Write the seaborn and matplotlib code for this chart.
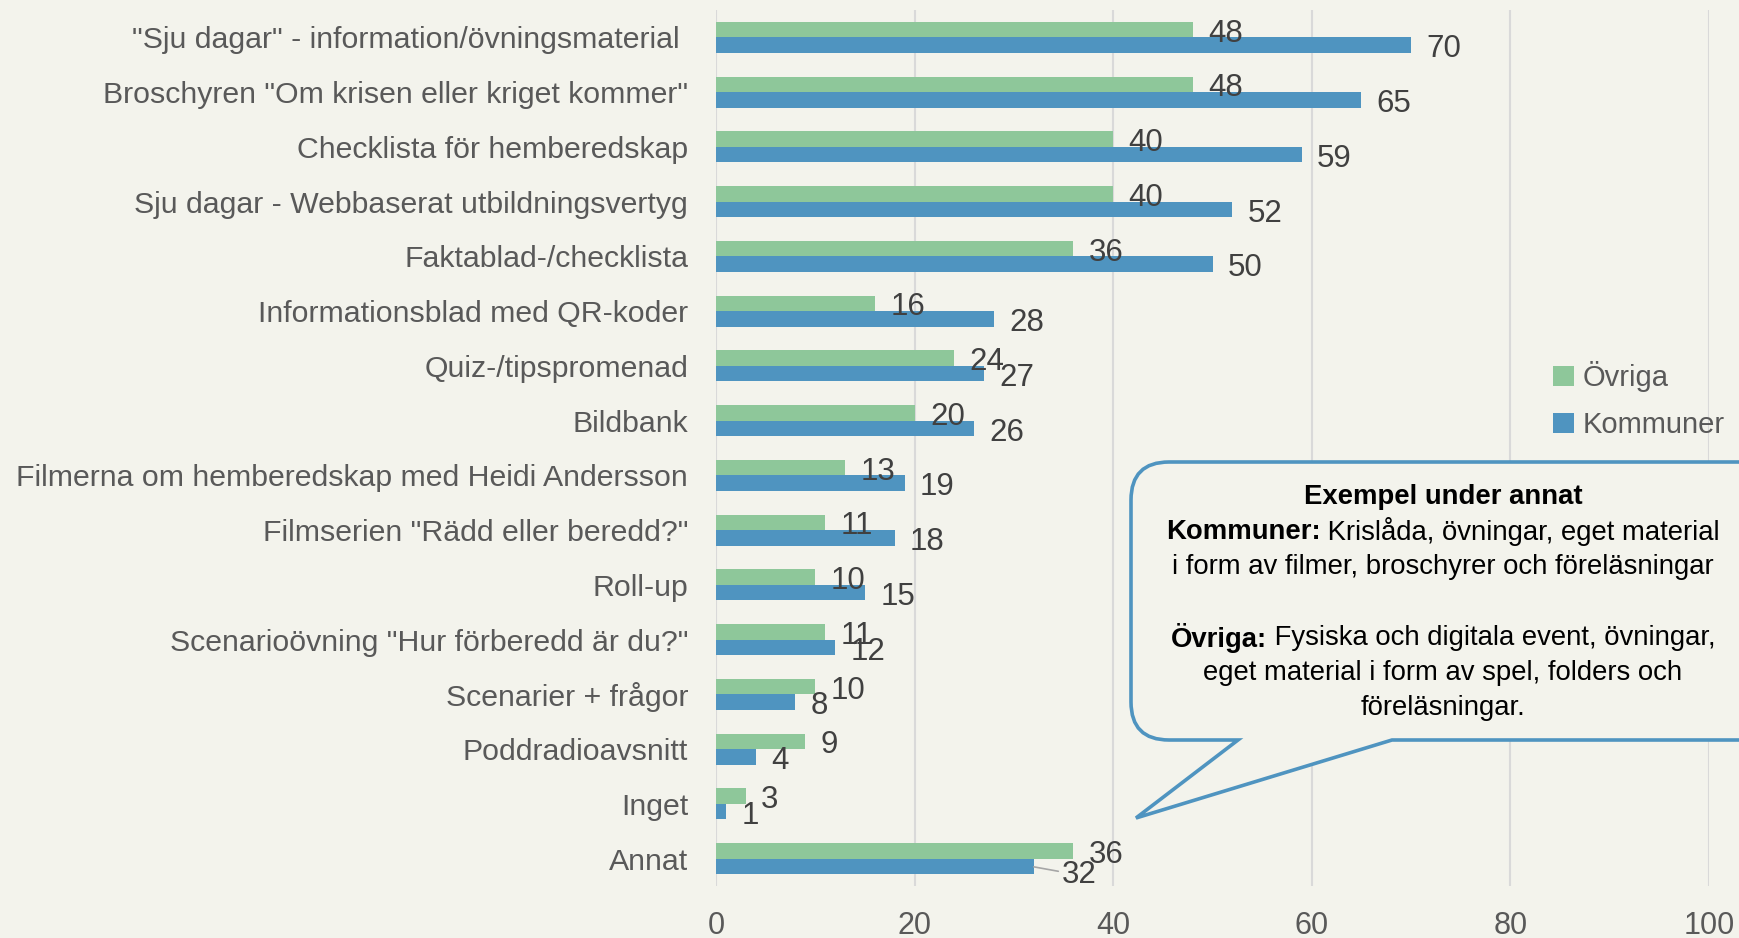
import numpy as np
import pandas as pd
import matplotlib
matplotlib.use("Agg")
import matplotlib.pyplot as plt
import seaborn as sns
from matplotlib.path import Path
from matplotlib.patches import PathPatch

# Data
categories = [
    '"Sju dagar" - information/övningsmaterial ',
    'Broschyren "Om krisen eller kriget kommer"',
    'Checklista för hemberedskap',
    'Sju dagar - Webbaserat utbildningsvertyg',
    'Faktablad-/checklista',
    'Informationsblad med QR-koder',
    'Quiz-/tipspromenad',
    'Bildbank',
    'Filmerna om hemberedskap med Heidi Andersson',
    'Filmserien "Rädd eller beredd?"',
    'Roll-up',
    'Scenarioövning "Hur förberedd är du?"',
    'Scenarier + frågor',
    'Poddradioavsnitt',
    'Inget',
    'Annat',
]
ovriga = [48, 48, 40, 40, 36, 16, 24, 20, 13, 11, 10, 11, 10, 9, 3, 36]
kommuner = [70, 65, 59, 52, 50, 28, 27, 26, 19, 18, 15, 12, 8, 4, 1, 32]
series = ["Övriga", "Kommuner"]
x_ticks = [0, 20, 40, 60, 80, 100]

callout_lines = [
    [("Exempel under annat", "bold")],
    [("Kommuner:", "bold"), (" Krislåda, övningar, eget material", "normal")],
    [("i form av filmer, broschyrer och föreläsningar", "normal")],
    [("Övriga:", "bold"), (" Fysiska och digitala event, övningar,", "normal")],
    [("eget material i form av spel, folders och", "normal")],
    [("föreläsningar.", "normal")],
]

BG = "#F3F3EC"
GREEN = "#8EC79A"
BLUE = "#4F94C0"
GRID = "#D9D9D9"

sns.set_style("white")
plt.rcParams["font.family"] = ["Liberation Sans", "DejaVu Sans"]

W, H = 1739, 938
fig = plt.figure(figsize=(W / 100, H / 100), dpi=100, facecolor=BG)
ax = fig.add_axes([716 / W, 1 - 886 / H, (1709 - 716) / W, (886 - 10) / H])
ax.set_facecolor(BG)

df = pd.DataFrame({
    "kategori": categories * 2,
    "grupp": [series[0]] * len(categories) + [series[1]] * len(categories),
    "andel": ovriga + kommuner,
})

sns.barplot(data=df, y="kategori", x="andel", hue="grupp", hue_order=series,
            palette=[GREEN, BLUE], orient="h", width=0.57, saturation=1,
            linewidth=0, ax=ax)

ax.set_xlim(0, 100)
ax.set_xticks(x_ticks)
ax.set_xlabel("")
ax.set_ylabel("")
ax.grid(axis="x", color=GRID, linewidth=1.5)
ax.set_axisbelow(True)
sns.despine(ax=ax, left=True, bottom=True)
ax.tick_params(axis="y", length=0, pad=20, labelsize=21.8, labelcolor="#595959")
ax.tick_params(axis="x", length=0, pad=18, labelsize=22, labelcolor="#595959")

# data labels
for i, cont in enumerate(ax.containers):
    labels = [str(v) for v in (ovriga if i == 0 else kommuner)]
    if i == 1:
        labels[-1] = ""
    texts = ax.bar_label(cont, labels=labels, padding=11, fontsize=22.5, color="#404040")
    for t in texts:
        t.xyann = (11, -3)

# Annat / Kommuner label pushed aside with a leader line
ax.annotate(str(kommuner[-1]), xy=(kommuner[-1], 15.15), xytext=(kommuner[-1] + 2.8, 15.3),
            fontsize=22.5, color="#404040", va="center", ha="left",
            arrowprops=dict(arrowstyle="-", color="#A6A6A6", lw=1.2, shrinkA=0, shrinkB=0))

# legend
handles, labs = ax.get_legend_handles_labels()
ax.get_legend().remove()
fig.legend(handles, labs, loc="center left", bbox_to_anchor=(1527 / W, 1 - 400 / H),
           frameon=False, fontsize=21, labelcolor="#595959", handlelength=0.7,
           handleheight=0.7, handletextpad=0.3, labelspacing=0.65)


# speech bubble callout
def px(x, y):
    return (x / W, 1 - y / H)


L, T, R, B, r = 1131, 462, 1790, 740, 38
tip = (1136, 818)
p1, p2 = 1238, 1392
verts = [
    px(L + r, T), px(R - r, T), px(R, T), px(R, T + r),
    px(R, B - r), px(R, B), px(R - r, B),
    px(p2, B), px(*tip), px(p1, B),
    px(L + r, B), px(L, B), px(L, B - r),
    px(L, T + r), px(L, T), px(L + r, T), px(L + r, T),
]
codes = [
    Path.MOVETO, Path.LINETO, Path.CURVE3, Path.CURVE3,
    Path.LINETO, Path.CURVE3, Path.CURVE3,
    Path.LINETO, Path.LINETO, Path.LINETO,
    Path.LINETO, Path.CURVE3, Path.CURVE3,
    Path.LINETO, Path.CURVE3, Path.CURVE3, Path.CLOSEPOLY,
]
bubble = PathPatch(Path(verts, codes), transform=fig.transFigure, facecolor=BG,
                   edgecolor="#4F94C0", linewidth=2.6, clip_on=False, zorder=5)
fig.patches.append(bubble)

line_y = [497, 532, 567, 638, 673, 708]
cx = 1443
renderer = fig.canvas.get_renderer()
for parts, ly in zip(callout_lines, line_y):
    texts = []
    for s, wgt in parts:
        t = fig.text(0, 1 - ly / H, s, fontsize=19.8, fontweight=wgt, color="black",
                     ha="left", va="center", zorder=6)
        texts.append(t)
    widths = [t.get_window_extent(renderer).width for t in texts]
    x0 = cx - sum(widths) / 2
    for t, w in zip(texts, widths):
        t.set_x(x0 / W)
        x0 += w

fig.savefig("out.png", dpi=100, facecolor=BG)
